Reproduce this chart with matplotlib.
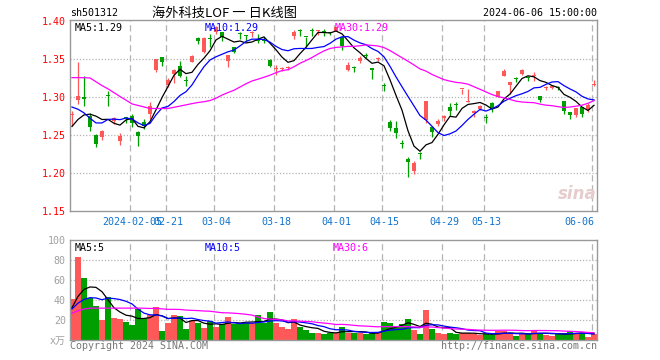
import numpy as np
import pandas as pd
import matplotlib
matplotlib.use("Agg")
import matplotlib.pyplot as plt

# ============
#  DATA
# ============

# daily candles, 2024-01-22 .. 2024-06-06 (88 trading days)
opens = [1.2760, 1.2962, 1.2993, 1.2752, 1.2499, 1.2468, 1.3019, 1.2686, 1.2415, 1.2722,
         1.2752, 1.2533, 1.2664, 1.2774, 1.3350, 1.3517, 1.3155, 1.3300, 1.3408, 1.3216,
         1.3452, 1.3767, 1.3583, 1.3763, 1.3845, 1.3845, 1.3465, 1.3649, 1.3829, 1.3798,
         1.3840, 1.3758, 1.3742, 1.3482, 1.3359, 1.3359, 1.3381, 1.3802, 1.3872, 1.3785,
         1.3863, 1.3862, 1.3850, 1.3845, 1.3867, 1.3780, 1.3356, 1.3382, 1.3465, 1.3544,
         1.3373, 1.3491, 1.3142, 1.2665, 1.2586, 1.2385, 1.2183, 1.2021, 1.2254, 1.2695,
         1.2608, 1.2643, 1.2717, 1.2870, 1.2905, 1.3099, 1.2935, 1.2782, 1.2839, 1.2726,
         1.2918, 1.3001, 1.3277, 1.3159, 1.3238, 1.3300, 1.3251, 1.3272, 1.3010, 1.3110,
         1.3111, 1.3125, 1.2949, 1.2796, 1.2765, 1.2870, 1.2826, 1.3150]
highs = [1.2818, 1.3450, 1.3277, 1.2782, 1.2511, 1.2568, 1.3080, 1.2739, 1.2520, 1.2740,
         1.2770, 1.2555, 1.2708, 1.2927, 1.3500, 1.3517, 1.3242, 1.3364, 1.3474, 1.3277,
         1.3548, 1.3780, 1.3780, 1.3824, 1.3934, 1.3845, 1.3548, 1.3658, 1.3845, 1.3815,
         1.3867, 1.3824, 1.3780, 1.3495, 1.3421, 1.3386, 1.3408, 1.3876, 1.3890, 1.3785,
         1.3903, 1.3876, 1.3890, 1.3850, 1.3920, 1.3800, 1.3452, 1.3408, 1.3540, 1.3570,
         1.3373, 1.3526, 1.3180, 1.2695, 1.2678, 1.2433, 1.2205, 1.2161, 1.2271, 1.2940,
         1.2620, 1.2708, 1.2761, 1.2914, 1.2927, 1.3104, 1.3104, 1.2826, 1.2896, 1.2774,
         1.2927, 1.3080, 1.3364, 1.3198, 1.3264, 1.3364, 1.3277, 1.3321, 1.3010, 1.3137,
         1.3155, 1.3146, 1.2949, 1.2796, 1.2848, 1.2870, 1.2914, 1.3225]
lows = [1.2620, 1.2905, 1.2883, 1.2555, 1.2336, 1.2437, 1.2883, 1.2643, 1.2367, 1.2650,
        1.2600, 1.2350, 1.2577, 1.2708, 1.3320, 1.3408, 1.3124, 1.3180, 1.3264, 1.3146,
        1.3452, 1.3692, 1.3575, 1.3649, 1.3824, 1.3727, 1.3395, 1.3570, 1.3758, 1.3727,
        1.3780, 1.3710, 1.3702, 1.3386, 1.3290, 1.3333, 1.3351, 1.3762, 1.3802, 1.3649,
        1.3802, 1.3815, 1.3802, 1.3810, 1.3858, 1.3614, 1.3342, 1.3320, 1.3443, 1.3509,
        1.3233, 1.3465, 1.3080, 1.2555, 1.2459, 1.2328, 1.1951, 1.1986, 1.2183, 1.2651,
        1.2476, 1.2620, 1.2687, 1.2752, 1.2827, 1.3038, 1.2935, 1.2739, 1.2826, 1.2651,
        1.2804, 1.2992, 1.3268, 1.3036, 1.3190, 1.3290, 1.3211, 1.3211, 1.2930, 1.3084,
        1.3098, 1.3089, 1.2774, 1.2708, 1.2739, 1.2730, 1.2796, 1.3145]
closes = [1.2765, 1.3006, 1.2975, 1.2599, 1.2380, 1.2546, 1.3014, 1.2717, 1.2480, 1.2717,
          1.2651, 1.2490, 1.2620, 1.2883, 1.3496, 1.3452, 1.3220, 1.3356, 1.3277, 1.3211,
          1.3539, 1.3737, 1.3771, 1.3758, 1.3920, 1.3780, 1.3548, 1.3583, 1.3824, 1.3793,
          1.3845, 1.3728, 1.3737, 1.3408, 1.3364, 1.3364, 1.3386, 1.3845, 1.3867, 1.3780,
          1.3858, 1.3867, 1.3845, 1.3832, 1.3911, 1.3671, 1.3417, 1.3377, 1.3509, 1.3539,
          1.3351, 1.3496, 1.3137, 1.2586, 1.2520, 1.2380, 1.2140, 1.2131, 1.2249, 1.2940,
          1.2533, 1.2678, 1.2752, 1.2809, 1.2888, 1.3104, 1.2940, 1.2808, 1.2883, 1.2721,
          1.2839, 1.3071, 1.3343, 1.3198, 1.3233, 1.3351, 1.3246, 1.3277, 1.2952, 1.3115,
          1.3146, 1.3120, 1.2818, 1.2761, 1.2848, 1.2774, 1.2896, 1.3155]
# volume, x 10k
volumes = [41.3, 83.3, 62.3, 42.3, 34, 19.7, 43, 22.3, 20.7, 18.3,
           15, 31.3, 22.3, 25, 33.3, 9.3, 17.3, 25.3, 24.3, 11.3,
           19, 17.3, 12.3, 19, 13.3, 15.7, 23.3, 16.3, 16.3, 17.3,
           16.7, 25, 17.3, 28.3, 17.3, 13, 10.7, 20.7, 13, 9.7,
           7.3, 7.3, 6.3, 7.3, 7.3, 13.3, 7.3, 7.3, 6.7, 5.7,
           6.7, 8.3, 18.3, 17.3, 13, 16.3, 21.3, 10.3, 6.3, 29.7,
           11.3, 7.3, 6.3, 7.3, 6.3, 7.3, 7.3, 5.7, 4.7, 5.7,
           5, 9, 9, 6.7, 3.7, 5.7, 5.7, 10.3, 7.3, 4.7,
           4, 5.7, 7.3, 9.3, 6, 7.3, 3.3, 5.7]

# days before the window (not drawn), estimated from where the MA lines start
prev_closes = [1.300, 1.300, 1.270, 1.388, 1.405, 1.430, 1.422, 1.398, 1.415, 1.415,
               1.309, 1.322, 1.348, 1.350, 1.345, 1.322, 1.288, 1.280, 1.273, 1.306,
               1.330, 1.345, 1.330, 1.300, 1.255, 1.255, 1.2675, 1.255, 1.251]
prev_volumes = [8, 10, 15, 34, 20, 43, 22, 21, 18, 15,
                30, 27, 32, 26, 29, 31, 25, 28, 30, 27,
                25, 25, 25, 37, 37, 27, 27, 30, 36]

tick_pos = [10, 16, 24, 34, 44, 52, 62, 69, 87]
tick_labels = ["2024-02-05", "02-21", "03-04", "03-18", "04-01",
               "04-15", "04-29", "05-13", "06-06"]
price_ticks = [1.15, 1.20, 1.25, 1.30, 1.35, 1.40]
vol_ticks = [0, 20, 40, 60, 80, 100]
vol_tick_labels = ["x万", "20", "40", "60", "80", "100"]

# ============
#  STYLE
# ============
UP = "#ff5858"
DOWN = "#009f00"
BORDER = "#999999"
GRID = "#b4b4b4"
MONO = ["DejaVu Sans Mono", "Noto Sans CJK SC"]
FS = 7.2


def moving_avg(prev, vals, n):
    full = pd.Series(list(prev) + list(vals), dtype=float)
    return full.rolling(n).mean().to_numpy()[len(prev):]


def style_axes(ax):
    for s in ax.spines.values():
        s.set_color(BORDER)
        s.set_linewidth(1.0)
    ax.tick_params(length=0)
    for p in tick_pos:
        ax.axvline(p - 0.25, color=GRID, lw=0.9, ls=(0, (5, 3)), zorder=0)


def main():
    o = np.array(opens)
    h = np.array(highs)
    l = np.array(lows)
    c = np.array(closes)
    v = np.array(volumes)
    x = np.arange(len(c))
    up = c >= o
    cols = np.where(up, UP, DOWN)

    fig = plt.figure(figsize=(6.6, 3.6), dpi=100)
    W, H = 660.0, 360.0

    # --- price panel ---
    ax = fig.add_axes([70 / W, 1 - 211 / H, 527 / W, 191 / H])
    style_axes(ax)
    for yv in price_ticks[1:-1]:
        ax.axhline(yv, color=GRID, lw=0.9, ls=(0, (1, 1.5)), zorder=0)

    ax.vlines(x, l, h, colors=cols, lw=0.9, zorder=2)
    ax.bar(x, np.maximum(np.abs(c - o), 0.0012), bottom=np.minimum(o, c),
           width=0.82, color=cols, linewidth=0, zorder=3)

    for n, col in [(5, "black"), (10, "#0000ff"), (30, "#ff00ff")]:
        ax.plot(x, moving_avg(prev_closes, closes, n), color=col, lw=0.9, zorder=4)

    ax.set_xlim(-0.33, 87.5)
    ax.set_ylim(1.15, 1.4007)
    ax.set_yticks(price_ticks)
    ax.set_yticklabels([f"{t:.2f}" for t in price_ticks], color="#ff0000",
                       fontsize=FS, family=MONO)
    ax.tick_params(axis="y", pad=3)
    ax.set_xticks(tick_pos)
    ax.set_xticklabels(tick_labels, color="#1173cc", fontsize=FS, family=MONO)
    ax.tick_params(axis="x", pad=4)
    ax.get_xticklabels()[-1].set_ha("right")

    ax.text(5 / 527, 1 - 8 / 191, "MA5:1.29", transform=ax.transAxes, color="black",
            fontsize=FS, family=MONO, va="center")
    ax.text(135 / 527, 1 - 8 / 191, "MA10:1.29", transform=ax.transAxes, color="#0000ff",
            fontsize=FS, family=MONO, va="center")
    ax.text(265 / 527, 1 - 8 / 191, "MA30:1.29", transform=ax.transAxes, color="#ff00ff",
            fontsize=FS, family=MONO, va="center")
    ax.text(0.962, 0.09, "sina", transform=ax.transAxes, color="#e6cccc", fontsize=12,
            fontweight="bold", style="italic", ha="center", va="center", zorder=1)

    # --- volume panel ---
    axv = fig.add_axes([70 / W, 1 - 340 / H, 527 / W, 100 / H])
    style_axes(axv)
    for yv in vol_ticks[1:-1]:
        axv.axhline(yv, color=GRID, lw=0.9, ls=(0, (1, 1.5)), zorder=0)
    axv.bar(x, v, width=0.84, color=cols, linewidth=0, zorder=2)
    for n, col in [(5, "black"), (10, "#0000ff"), (30, "#ff00ff")]:
        axv.plot(x, moving_avg(prev_volumes, volumes, n), color=col, lw=0.9, zorder=4)
    axv.set_xlim(-0.33, 87.5)
    axv.set_ylim(0, 100)
    axv.set_xticks([])
    axv.set_yticks(vol_ticks)
    axv.set_yticklabels(vol_tick_labels, color="#a0a0a0", fontsize=FS, family=MONO)
    axv.tick_params(axis="y", pad=3)

    axv.text(5 / 527, 1 - 8 / 100, "MA5:5", transform=axv.transAxes, color="black",
             fontsize=FS, family=MONO, va="center")
    axv.text(135 / 527, 1 - 8 / 100, "MA10:5", transform=axv.transAxes, color="#0000ff",
             fontsize=FS, family=MONO, va="center")
    axv.text(263 / 527, 1 - 8 / 100, "MA30:6", transform=axv.transAxes, color="#ff00ff",
             fontsize=FS, family=MONO, va="center")

    # --- header / footer ---
    fig.text(70 / W, 1 - 13 / H, "sh501312", color="black", fontsize=FS, family=MONO,
             va="center")
    fig.text(224 / W, 1 - 13 / H, "海外科技LOF 一 日K线图", color="black", fontsize=9.5,
             family=["Noto Sans CJK SC", "DejaVu Sans"], ha="center", va="center")
    fig.text(597 / W, 1 - 13 / H, "2024-06-06 15:00:00", color="black", fontsize=FS,
             family=MONO, ha="right", va="center")
    fig.text(70 / W, 1 - 346 / H, "Copyright 2024 SINA.COM", color="#777777",
             fontsize=FS, family=MONO, va="center")
    fig.text(597 / W, 1 - 346 / H, "http://finance.sina.com.cn", color="#777777",
             fontsize=FS, family=MONO, ha="right", va="center")

    fig.savefig("out.png", dpi=100, facecolor="white")


if __name__ == "__main__":
    main()
